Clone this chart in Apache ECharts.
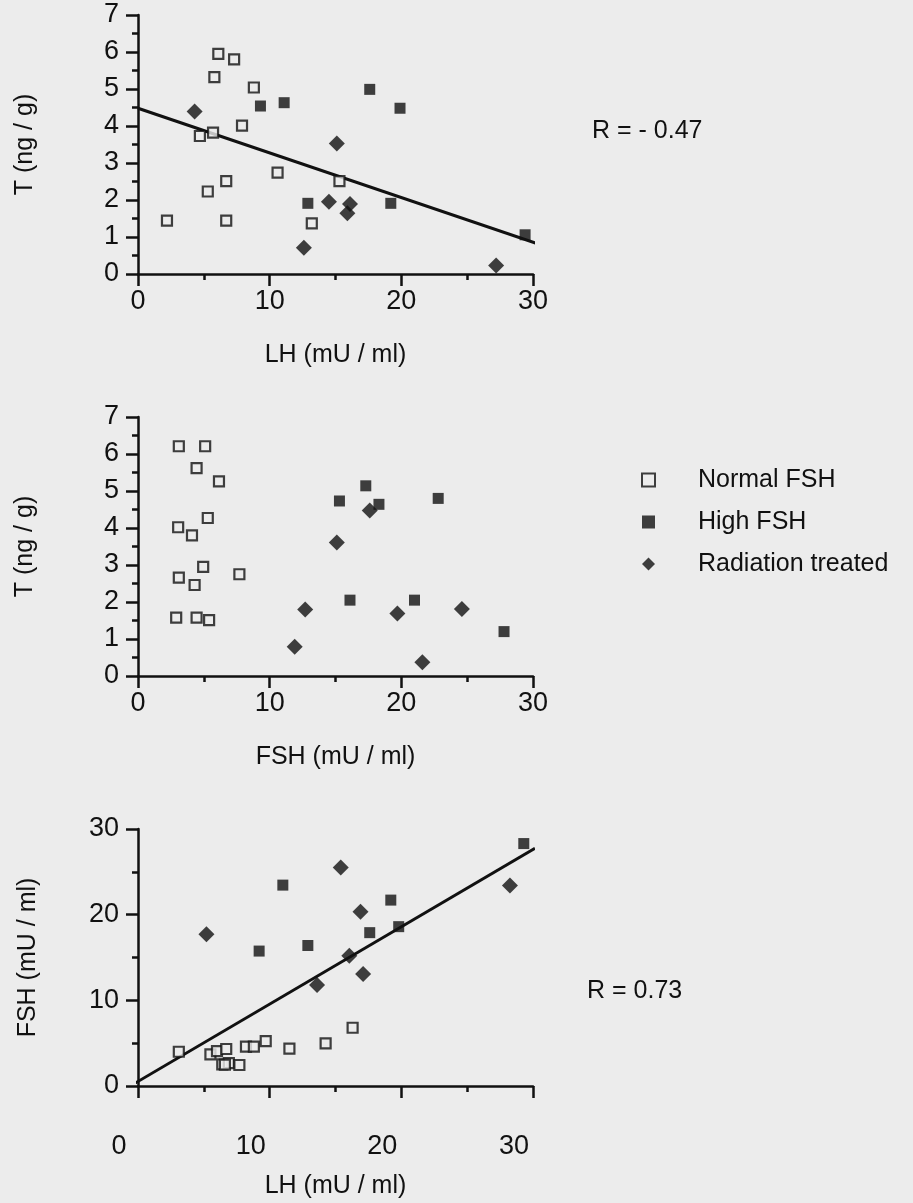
<!DOCTYPE html>
<html><head><meta charset="utf-8">
<script src="https://cdn.jsdelivr.net/npm/echarts@6/dist/echarts.min.js"></script>
<style>html,body{margin:0;padding:0;background:#ececec}#c{width:913px;height:1203px}</style>
</head><body><div id="c"></div><script>
// ---- data ----
const seriesNames = ['Normal FSH', 'High FSH', 'Radiation treated'];
const xTicks = [0, 10, 20, 30];
// Panel 1: LH (x) vs T (y)
const p1Normal = [[2.2,1.44],[6.1,5.95],[7.3,5.8],[5.8,5.32],[8.8,5.04],[7.9,4.01],[4.7,3.73],[5.7,3.82],[10.6,2.74],[6.7,2.51],[5.3,2.23],[6.7,1.44],[15.3,2.51],[13.2,1.37]];
const p1High = [[9.3,4.54],[11.1,4.63],[17.6,4.99],[19.9,4.48],[12.9,1.91],[19.2,1.91],[29.4,1.06]];
const p1Rad = [[4.3,4.39],[15.1,3.53],[14.5,1.95],[16.1,1.89],[15.9,1.64],[12.6,0.71],[27.2,0.23]];
const p1Fit = [[0,4.48],[31,0.74]];
// Panel 2: FSH (x) vs T (y)
const p2Normal = [[3.1,6.21],[5.1,6.21],[4.45,5.62],[6.15,5.26],[5.3,4.27],[3.05,4.02],[4.1,3.8],[4.95,2.95],[3.1,2.66],[4.3,2.46],[7.7,2.75],[2.9,1.58],[4.45,1.58],[5.4,1.51]];
const p2High = [[15.3,4.73],[17.3,5.14],[18.3,4.64],[22.8,4.8],[16.1,2.05],[21.0,2.05],[27.8,1.2]];
const p2Rad = [[15.1,3.61],[17.6,4.47],[12.7,1.8],[19.7,1.69],[24.6,1.81],[11.9,0.79],[21.6,0.37]];
// Panel 3: LH (x) vs FSH (y)
const p3Normal = [[3.1,4.0],[5.5,3.7],[6.0,4.08],[6.7,4.32],[6.4,2.53],[6.9,2.68],[7.7,2.45],[8.2,4.59],[8.8,4.59],[9.7,5.25],[11.5,4.36],[14.25,4.98],[16.3,6.8],[6.6,2.5]];
const p3High = [[29.3,28.3],[11.0,23.45],[19.2,21.7],[19.8,18.6],[17.6,17.9],[12.9,16.4],[9.2,15.75]];
const p3Rad = [[15.4,25.5],[28.25,23.4],[16.9,20.35],[5.2,17.7],[16.05,15.2],[17.1,13.07],[13.6,11.8]];
const p3Fit = [[-0.7,-0.1],[30.15,27.75]];
const rTexts = ['R = - 0.47', 'R = 0.73'];

// ---- chart ----
const FONT = '"Liberation Sans", Arial, Helvetica, sans-serif';
const INK = '#111';
const BG = '#ececec';
const TICK_FS = 27;
const NAME_FS = 25;
const chart = echarts.init(document.getElementById('c'));

function xAxis(gi, name, extra) {
  return Object.assign({
    type: 'value', gridIndex: gi, min: xTicks[0], max: xTicks[xTicks.length-1], interval: 10,
    name: name, nameLocation: 'middle', nameGap: 69,
    nameTextStyle: {fontSize: NAME_FS, color: INK, fontFamily: FONT},
    axisLine: {onZero: false, lineStyle: {color: INK, width: 2.5}},
    axisTick: {show: true, length: 12, lineStyle: {color: INK, width: 2.5}},
    minorTick: {show: true, splitNumber: 2, length: 6, lineStyle: {color: INK, width: 2.5}},
    splitLine: {show: false}, minorSplitLine: {show: false},
    axisLabel: {fontSize: TICK_FS, color: INK, fontFamily: FONT, margin: 14}
  }, extra || {});
}
function yAxis(gi, name, max, interval, gap) {
  return {
    type: 'value', gridIndex: gi, min: 0, max: max, interval: interval,
    name: name, nameLocation: 'middle', nameGap: gap,
    nameTextStyle: {fontSize: NAME_FS, color: INK, fontFamily: FONT},
    axisLine: {onZero: false, lineStyle: {color: INK, width: 2.5}},
    axisTick: {show: true, length: 12, lineStyle: {color: INK, width: 2.5}},
    minorTick: {show: true, splitNumber: 2, length: 6, lineStyle: {color: INK, width: 2.5}},
    splitLine: {show: false}, minorSplitLine: {show: false},
    axisLabel: {fontSize: TICK_FS, color: INK, fontFamily: FONT, margin: 19}
  };
}
function pts(gi, kind, data) {
  const base = {type: 'scatter', name: seriesNames[kind], xAxisIndex: gi, yAxisIndex: gi, data: data, z: 5};
  if (kind === 0) return Object.assign(base, {symbol: 'rect', symbolSize: 10, itemStyle: {color: BG, borderColor: INK, borderWidth: 2.2}});
  if (kind === 1) return Object.assign(base, {symbol: 'rect', symbolSize: 11, itemStyle: {color: INK}});
  return Object.assign(base, {symbol: 'diamond', symbolSize: 16, itemStyle: {color: INK}});
}
function fit(gi, data) {
  return {type: 'line', xAxisIndex: gi, yAxisIndex: gi, data: data, symbol: 'none', clip: false, z: 2,
    lineStyle: {color: INK, width: 3}, silent: true};
}

chart.setOption({
  backgroundColor: BG,
  animation: false,
  textStyle: {fontFamily: FONT},
  grid: [
    {left: 138, width: 395, top: 15, height: 259},
    {left: 138, width: 395, top: 417, height: 259},
    {left: 138, width: 395, top: 829, height: 257}
  ],
  xAxis: [
    xAxis(0, 'LH (mU / ml)'),
    xAxis(1, 'FSH (mU / ml)'),
    xAxis(2, 'LH (mU / ml)', {nameGap: 88, axisLabel: {fontSize: TICK_FS, color: INK, fontFamily: FONT, margin: 47, padding: [0, 38, 0, 0]}})
  ],
  yAxis: [
    yAxis(0, 'T (ng / g)', 7, 1, 100),
    yAxis(1, 'T (ng / g)', 7, 1, 100),
    yAxis(2, 'FSH (mU / ml)', 30, 10, 97)
  ],
  title: [
    {text: rTexts[0], left: 592, top: 119, padding: 0, textStyle: {fontSize: 25, fontWeight: 'normal', color: INK, fontFamily: FONT}},
    {text: rTexts[1], left: 587, top: 979, padding: 0, textStyle: {fontSize: 25, fontWeight: 'normal', color: INK, fontFamily: FONT}}
  ],
  legend: {
    orient: 'vertical', left: 641, top: 467, padding: 0, itemGap: 16, itemWidth: 13, itemHeight: 13,
    textStyle: {fontSize: 25, color: INK, fontFamily: FONT, lineHeight: 26, padding: [0, 0, 0, 38]},
    data: seriesNames
  },
  series: [
    fit(0, p1Fit), fit(2, p3Fit),
    pts(0, 0, p1Normal), pts(0, 1, p1High), pts(0, 2, p1Rad),
    pts(1, 0, p2Normal), pts(1, 1, p2High), pts(1, 2, p2Rad),
    pts(2, 0, p3Normal), pts(2, 1, p3High), pts(2, 2, p3Rad)
  ]
});
</script></body></html>
